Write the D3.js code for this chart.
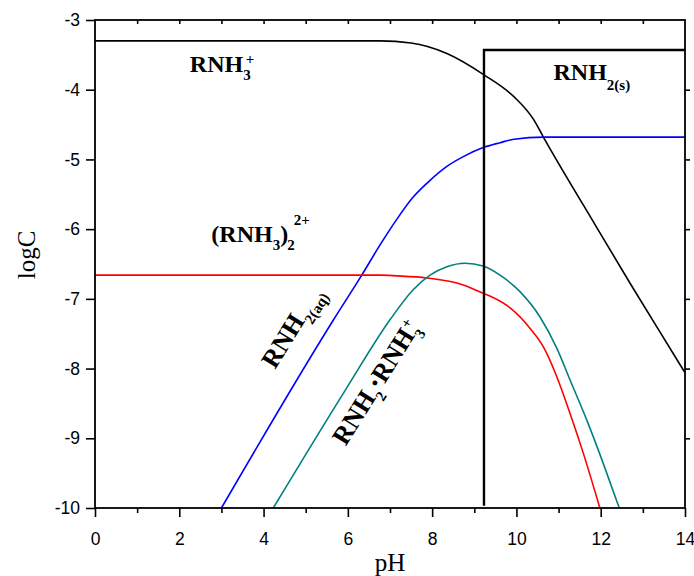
<!DOCTYPE html>
<html>
<head>
<meta charset="utf-8">
<script src="https://cdn.jsdelivr.net/npm/d3@7"></script>
<style>
  body { margin: 0; background: #fff; }
  .tick-label { font-family: "Liberation Sans", Arial, sans-serif; font-size: 18px; fill: #000; }
  .title { font-family: "Liberation Serif", "Times New Roman", serif; font-size: 25px; fill: #000; }
  .species { font-family: "Liberation Serif", "Times New Roman", serif; font-weight: bold; fill: #000; }
  .curve { fill: none; stroke-width: 1.6; }
</style>
</head>
<body>
<svg class="chart"></svg>
<script>
//
// data (pH, logC)
//

var xTicks = [0, 2, 4, 6, 8, 10, 12, 14];
var yTicks = [-3, -4, -5, -6, -7, -8, -9, -10];

var rnh3 = [[0, -3.30], [3, -3.30], [6, -3.30], [6.76, -3.30], [7.5, -3.33], [8.35, -3.48],
    [9.24, -3.79], [9.94, -4.10], [10.41, -4.43], [10.64, -4.68],
    [11.90, -5.97], [12.70, -6.78], [13.96, -8.02], [14, -8.06]];

var rnh2aq = [[3.0, -10], [5.66, -7.30], [6.33, -6.66], [6.76, -6.23], [7.16, -5.86],
    [7.55, -5.54], [7.95, -5.30], [8.35, -5.10], [8.74, -4.96], [9.21, -4.83],
    [9.61, -4.76], [9.94, -4.71], [10.65, -4.68], [14, -4.68]];

var dimer = [[0, -6.66], [5.58, -6.66], [6.76, -6.66], [7.16, -6.67], [7.87, -6.70],
    [8.74, -6.80], [9.21, -6.92], [9.37, -6.96], [9.85, -7.13], [10.32, -7.42],
    [10.64, -7.69], [10.96, -8.12], [11.27, -8.64], [11.59, -9.22], [11.98, -10.0]];

var complex = [[4.23, -10], [5.97, -8.28], [7.0, -7.30], [7.55, -6.87], [7.95, -6.66],
    [8.35, -6.54], [8.78, -6.49], [9.21, -6.53], [9.61, -6.66], [10.09, -6.90],
    [10.56, -7.26], [10.96, -7.71], [11.27, -8.16], [11.67, -8.74], [12.06, -9.36],
    [12.44, -10.0]];

// RNH2(s) region boundary
var solid = [[9.23, -9.95], [9.23, -3.43], [14, -3.43]];

//
// scene
//

var width = 694, height = 576;
var margin = { top: 20, right: 9, bottom: 68, left: 95 };

var svg = d3.select(".chart")
    .attr("width", width)
    .attr("height", height);

var x = d3.scaleLinear().domain([0, 14]).range([margin.left, width - margin.right]);
var y = d3.scaleLinear().domain([-3, -10]).range([margin.top, height - margin.bottom]);

var line = d3.line()
    .x(function (d) { return x(d[0]); })
    .y(function (d) { return y(d[1]); })
    .curve(d3.curveMonotoneX);

svg.append("defs").append("clipPath").attr("id", "plot")
    .append("rect")
    .attr("x", x(0)).attr("y", y(-3))
    .attr("width", x(14) - x(0)).attr("height", y(-10) - y(-3));

var plot = svg.append("g").attr("clip-path", "url(#plot)");

var series = [
    { data: rnh3, color: "#000000" },
    { data: rnh2aq, color: "#0000ff" },
    { data: dimer, color: "#ff0000" },
    { data: complex, color: "#008080" }
];

plot.selectAll("path.curve")
    .data(series)
    .enter().append("path")
    .attr("class", "curve")
    .attr("stroke", function (d) { return d.color; })
    .attr("d", function (d) { return line(d.data); });

plot.append("path")
    .attr("d", d3.line().x(function (d) { return x(d[0]); }).y(function (d) { return y(d[1]); })(solid))
    .attr("fill", "none")
    .attr("stroke", "#000")
    .attr("stroke-width", 2.4)
    .attr("stroke-linecap", "square");

//
// axes
//

var plain = function (d) { return String(d); }; // keep the short hyphen minus

var axisStyle = function (g) {
    g.select(".domain").remove();
    g.selectAll("line").attr("stroke", "#000").attr("stroke-width", 1.6);
    g.selectAll("text").attr("class", "tick-label").attr("fill", null);
};

// bottom: major outward, minor outward
svg.append("g")
    .attr("transform", "translate(0," + y(-10) + ")")
    .call(d3.axisBottom(x).tickValues(d3.range(1, 14, 2)).tickSize(5).tickFormat(""))
    .call(axisStyle);
svg.append("g")
    .attr("transform", "translate(0," + y(-10) + ")")
    .call(d3.axisBottom(x).tickValues(xTicks).tickSize(9).tickPadding(16).tickFormat(plain))
    .call(axisStyle);

// top: inward
svg.append("g")
    .attr("transform", "translate(0," + y(-3) + ")")
    .call(d3.axisBottom(x).tickValues(d3.range(1, 14)).tickSize(4).tickFormat(""))
    .call(axisStyle);

// left: outward
svg.append("g")
    .attr("transform", "translate(" + x(0) + ",0)")
    .call(d3.axisLeft(y).tickValues(yTicks).tickSize(9).tickPadding(6).tickFormat(plain))
    .call(axisStyle);

// right: inward
svg.append("g")
    .attr("transform", "translate(" + x(14) + ",0)")
    .call(d3.axisLeft(y).tickValues(yTicks.slice(1, -1)).tickSize(-5).tickFormat(""))
    .call(axisStyle);
svg.selectAll(".tick-label").style("font-size", "17.5px");

// frame
svg.append("rect")
    .attr("x", x(0)).attr("y", y(-3))
    .attr("width", x(14) - x(0)).attr("height", y(-10) - y(-3))
    .attr("fill", "none")
    .attr("stroke", "#000")
    .attr("stroke-width", 1.8);

// axis titles
svg.append("text")
    .attr("class", "title")
    .attr("x", (x(0) + x(14)) / 2)
    .attr("y", height - 5)
    .attr("text-anchor", "middle")
    .text("pH");

svg.append("text")
    .attr("class", "title")
    .attr("transform", "translate(35,255) rotate(-90)")
    .attr("text-anchor", "middle")
    .text("logC");

//
// species labels
//

// parts: [text, size, dx, dy]
function label(px, py, angle, size, parts) {
    var t = svg.append("text")
        .attr("class", "species")
        .attr("transform", "translate(" + x(px) + "," + y(py) + ") rotate(" + angle + ")");
    parts.forEach(function (p) {
        t.append("tspan")
            .attr("font-size", p[1] || size)
            .attr("dx", p[2] || 0)
            .attr("dy", p[3] || 0)
            .text(p[0]);
    });
}

label(2.25, -3.74, 0, 24, [["RNH"], ["3", 15, 0, 8], ["+", 15, -5, -16]]);
label(2.76, -6.18, 0, 24, [["(RNH"], ["3", 15, 0, 8], [")", 24, 0, -8], ["2", 15, -1, 8], ["2+", 15, -1, -25]]);
label(10.88, -3.86, 0, 24, [["RNH"], ["2(s)", 15, 0, 10]]);
label(4.27, -8.02, -58, 26, [["RNH"], ["2(aq)", 15, 0, 8]]);
label(5.95, -9.12, -58, 26, [["RNH"], ["2", 15, 0, 8], ["•", 18, 1, -11], ["RNH", 26, 1, 3], ["3", 15, 0, 8], ["+", 15, -6, -17]]);
</script>
</body>
</html>
